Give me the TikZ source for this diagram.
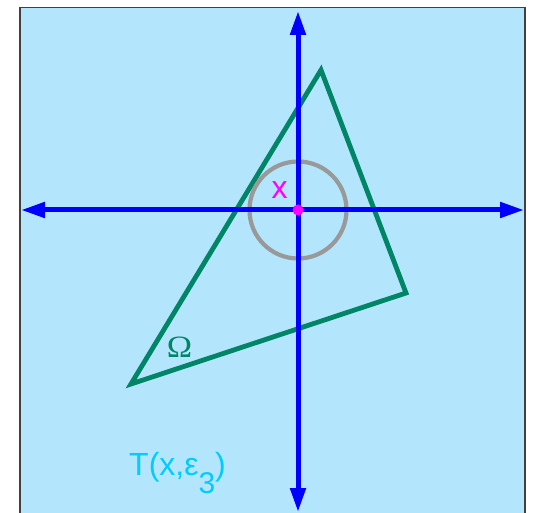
\documentclass[tikz,border=0pt]{standalone}
\usepackage{fontspec}
\setmainfont{Liberation Sans}
\newfontfamily\serifOmega{Liberation Serif}
\usetikzlibrary{arrows.meta}
\definecolor{bgblue}{RGB}{179,229,252}
\definecolor{axisblue}{RGB}{0,0,255}
\definecolor{trigreen}{RGB}{0,133,102}
\definecolor{circgray}{RGB}{153,153,153}
\definecolor{ptmag}{RGB}{255,0,255}
\definecolor{labcyan}{RGB}{0,204,255}
\definecolor{framegray}{RGB}{64,64,64}
\begin{document}
\begin{tikzpicture}[x=1pt,y=-1pt,
  axis/.style={draw=axisblue,line width=5pt,{Triangle[length=24pt,width=15pt]}-{Triangle[length=24pt,width=15pt]}},
  region/.style={draw=trigreen,line width=4.8pt},
  ball/.style={draw=circgray,line width=4.2pt},
  lab/.style={inner sep=0pt,font=\fontsize{32}{32}\selectfont}]
\useasboundingbox (0,0) rectangle (533,513);
\fill[bgblue] (20,7.5) rectangle (525,530);
\draw[framegray,line width=1.5pt] (20,530) -- (20,7.5) -- (525,7.5) -- (525,530);
% triangle
\coordinate (A) at (321,70);
\coordinate (B) at (406,293);
\coordinate (C) at (131,384);
\draw[region] (A) -- (B) -- (C) -- cycle;
% ball
\coordinate (O) at (298,210);
\draw[ball] (O) circle[radius=48.5];
% axes
\coordinate (W) at (21,210);
\coordinate (E) at (524,210);
\coordinate (N) at (298,11);
\coordinate (S) at (298,512);
\draw[axis] (W) -- (E);
\draw[axis] (S) -- (N);
% point
\fill[ptmag] (O) circle[radius=5.5];
% labels
\node[lab,text=ptmag] (xlab) at (279.5,190) {x};
\node[inner sep=0pt,text=trigreen,font=\serifOmega\fontsize{31}{31}\selectfont,xscale=1.1] (omega) at (179.5,347.5) {Ω};
\node[lab,text=labcyan,anchor=base west] (tlab) at (129,475.3) {T(x,ε\raisebox{-18pt}{\fontsize{30}{30}\selectfont 3})};
\end{tikzpicture}
\end{document}
